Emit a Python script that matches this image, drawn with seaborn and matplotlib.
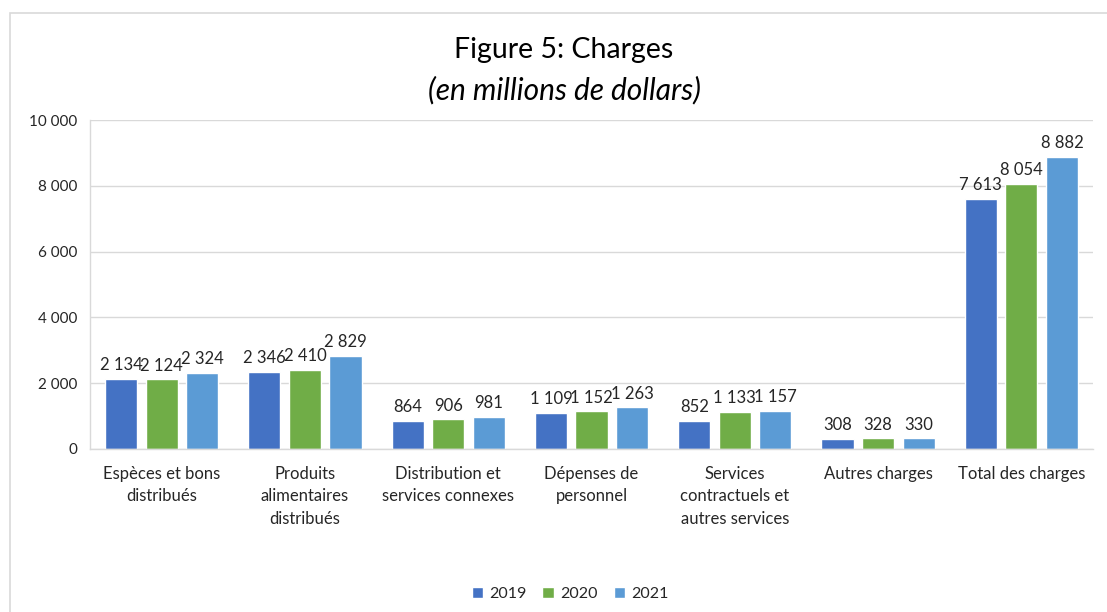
import matplotlib
matplotlib.use("Agg")
import matplotlib.pyplot as plt
import seaborn as sns
import pandas as pd
import numpy as np
from matplotlib.patches import Rectangle

categories = ["Espèces et bons\ndistribués", "Produits\nalimentaires\ndistribués",
              "Distribution et\nservices connexes", "Dépenses de\npersonnel",
              "Services\ncontractuels et\nautres services", "Autres charges",
              "Total des charges"]
years = ["2019", "2020", "2021"]
v2019 = [2134, 2346, 864, 1109, 852, 308, 7613]
v2020 = [2124, 2410, 906, 1152, 1133, 328, 8054]
v2021 = [2324, 2829, 981, 1263, 1157, 330, 8882]
yticks = [0, 2000, 4000, 6000, 8000, 10000]

colors = ["#4472C4", "#70AD47", "#5B9BD5"]

sns.set_theme(style="white")
plt.rcParams['font.family'] = ['Lato', 'DejaVu Sans']

rows = []
for yr, vals in zip(years, [v2019, v2020, v2021]):
    for c, v in zip(categories, vals):
        rows.append({"cat": c, "year": yr, "val": v})
df = pd.DataFrame(rows)

fig = plt.figure(figsize=(11.07, 6.12), dpi=100)
ax = fig.add_axes([90/1107, 1-449/612, (1093-90)/1107, (449-120)/612])

sns.barplot(data=df, x="cat", y="val", hue="year", order=categories, hue_order=years,
            palette=colors, width=0.85, ax=ax, legend=True, saturation=1)

# shrink bars to create gaps
bw = 0.224
for p in ax.patches:
    if p.get_height() > 0 or p.get_width() > 0:
        cx = p.get_x() + p.get_width()/2
        p.set_width(bw)
        p.set_x(cx - bw/2)

fmt = lambda v: f"{int(v):,}".replace(",", " ")
for cont in ax.containers:
    ax.bar_label(cont, labels=[fmt(b.get_height()) for b in cont], padding=4,
                 fontsize=12, color="#262626")

ax.set_ylim(0, 10000)
ax.set_xlim(-0.5, len(categories)-0.5)
ax.set_yticks(yticks)
ax.set_yticklabels([fmt(t) for t in yticks], fontsize=11, color="#262626")
ax.set_xticks(range(len(categories)))
ax.set_xticklabels(categories, fontsize=12, color="#262626", linespacing=1.5)
ax.set_xticks(np.arange(-0.5, len(categories), 1), minor=True)
ax.tick_params(axis="x", which="major", length=0, pad=12)
ax.tick_params(axis="x", which="minor", length=5, color="#D9D9D9", width=1)
ax.tick_params(axis="y", length=5, color="#D9D9D9", width=1, pad=4)
ax.set_xlabel("")
ax.set_ylabel("")
ax.grid(axis="y", color="#D9D9D9", linewidth=1)
ax.set_axisbelow(True)
for s in ["top", "right"]:
    ax.spines[s].set_visible(False)
for s in ["left", "bottom"]:
    ax.spines[s].set_color("#D9D9D9")
    ax.spines[s].set_linewidth(1)

handles, labels = ax.get_legend_handles_labels()
ax.get_legend().remove()
fig.legend(handles, labels, loc="center", bbox_to_anchor=(570/1107, 1-594/612),
           ncol=3, frameon=False, fontsize=11.5, handlelength=0.7, handleheight=0.7,
           handletextpad=0.4, columnspacing=1.0, labelcolor="#262626")

fig.text(564/1107, 1-50/612, "Figure 5: Charges", ha="center", va="center", fontsize=20.5, color="#000000")
fig.text(564/1107, 1-90/612, "(en millions de dollars)", ha="center", va="center", fontsize=21.5,
         style="italic", color="#000000")

fig.patches.append(Rectangle((10/1107, -0.01), 1.2, 1-13/612 + 0.01, transform=fig.transFigure,
                             fill=False, edgecolor="#D9D9D9", linewidth=1.2))

fig.savefig("out.png", dpi=100)
